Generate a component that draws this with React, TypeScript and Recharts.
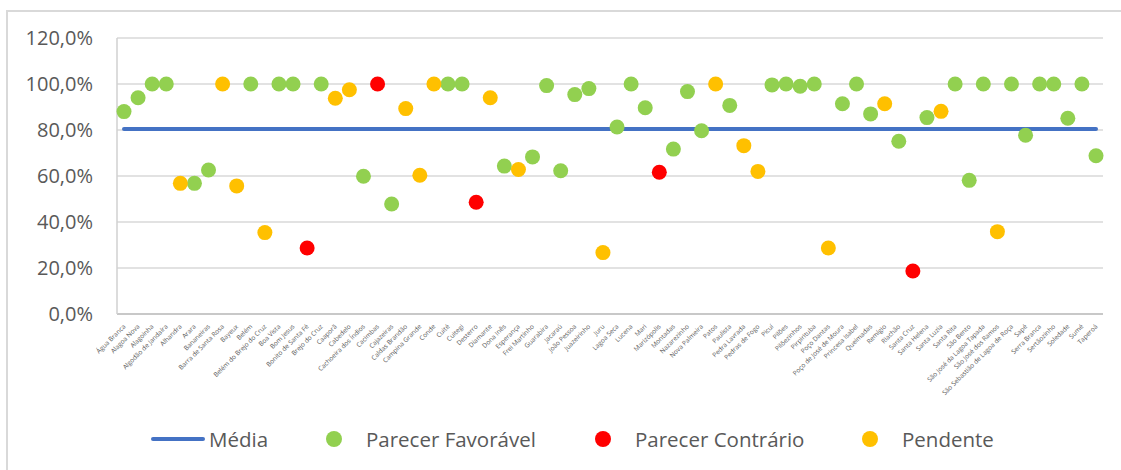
import React from 'react';
import { ComposedChart, Line, XAxis, YAxis, CartesianGrid } from 'recharts';

// municípios (eixo X)
const municipios = [
  'Água Branca', 'Alagoa Nova', 'Alagoinha', 'Algodão de Jandaíra', 'Alhandra', 'Arara', 'Bananeiras',
  'Barra de Santa Rosa', 'Bayeux', 'Belém', 'Belém do Brejo do Cruz', 'Boa Vista', 'Bom Jesus',
  'Bonito de Santa Fé', 'Brejo do Cruz', 'Caaporã', 'Cabedelo', 'Cachoeira dos Índios', 'Cacimbas',
  'Cajazeiras', 'Caldas Brandão', 'Campina Grande', 'Conde', 'Cuité', 'Cuitegi', 'Desterro', 'Diamante',
  'Dona Inês', 'Esperança', 'Frei Martinho', 'Guarabira', 'Jacaraú', 'João Pessoa', 'Juazeirinho', 'Juru',
  'Lagoa Seca', 'Lucena', 'Mari', 'Marizópolis', 'Montadas', 'Nazarezinho', 'Nova Palmeira', 'Patos',
  'Paulista', 'Pedra Lavrada', 'Pedras de Fogo', 'Picuí', 'Pilões', 'Pilõezinhos', 'Pirpirituba',
  'Poço Dantas', 'Poço de José de Moura', 'Princesa Isabel', 'Queimadas', 'Remígio', 'Riachão',
  'Santa Cruz', 'Santa Helena', 'Santa Luzia', 'Santa Rita', 'São Bento', 'São José da Lagoa Tapada',
  'São José dos Ramos', 'São Sebastião de Lagoa de Roça', 'Sapé', 'Serra Branca', 'Sertãozinho',
  'Soledade', 'Sumé', 'Taperoá',
];

// percentual de cada município
const percentuais = [
  88.0, 94.0, 100, 100, 56.8, 56.8, 62.6, 100, 55.7, 100,
  35.4, 100, 100, 28.7, 100, 93.8, 97.5, 59.9, 100, 47.8,
  89.3, 60.3, 100, 100, 100, 48.6, 94.0, 64.3, 62.8, 68.3,
  99.3, 62.3, 95.4, 98.0, 26.7, 81.3, 100, 89.7, 61.6, 71.7,
  96.7, 79.7, 100, 90.7, 73.2, 62.0, 99.6, 100, 99.0, 100,
  28.7, 91.4, 100, 87.0, 91.4, 75.1, 18.7, 85.4, 88.1, 100,
  58.1, 100, 35.8, 100, 77.7, 100, 100, 85.1, 100, 68.8,
];

// F = favorável, C = contrário, P = pendente
const pareceres = [
  'F', 'F', 'F', 'F', 'P', 'F', 'F', 'P', 'P', 'F',
  'P', 'F', 'F', 'C', 'F', 'P', 'P', 'F', 'C', 'F',
  'P', 'P', 'P', 'F', 'F', 'C', 'P', 'F', 'P', 'F',
  'F', 'F', 'F', 'F', 'P', 'F', 'F', 'F', 'C', 'F',
  'F', 'F', 'P', 'F', 'P', 'P', 'F', 'F', 'F', 'F',
  'P', 'F', 'F', 'F', 'P', 'F', 'C', 'F', 'P', 'F',
  'F', 'F', 'P', 'F', 'F', 'F', 'F', 'F', 'F', 'F',
];

const media = 80.4;
const yTicks = [0, 20, 40, 60, 80, 100, 120];

const series = [
  { key: 'fav', code: 'F', name: 'Parecer Favorável', color: '#92d050' },
  { key: 'contra', code: 'C', name: 'Parecer Contrário', color: '#ff0000' },
  { key: 'pend', code: 'P', name: 'Pendente', color: '#ffc000' },
];

const data = municipios.map((nome, i) => {
  const row: Record<string, string | number | null> = { nome, media };
  series.forEach(s => {
    row[s.key] = pareceres[i] === s.code ? percentuais[i] : null;
  });
  return row;
});

const fmt = (v: number) => `${v.toFixed(1).replace('.', ',')}%`;

const XTick = ({ x, y, payload }: any) => {
  const ax = x + 2;
  const ay = y + 11;
  return (
    <text x={ax} y={ay} transform={`rotate(-45 ${ax} ${ay})`} textAnchor="end" fontSize={6.5} fill="#595959">
      {payload.value}
    </text>
  );
};

const makeDot = (color: string) => (props: any) => {
  const { cx, cy, value, index } = props;
  if (value == null || cy == null || isNaN(cy)) return <g key={index} />;
  return <circle key={index} cx={cx} cy={cy} r={7.5} fill={color} />;
};

const legendText: React.CSSProperties = {
  position: 'absolute', top: 426, fontSize: 20.5, lineHeight: '26px', color: '#595959',
};

const dot = (left: number, color: string): React.CSSProperties => ({
  position: 'absolute', left: left - 8, top: 431, width: 16, height: 16, borderRadius: 8, background: color,
});

export default function App() {
  return (
    <div style={{ position: 'relative', width: 1121, height: 470, overflow: 'hidden', fontFamily: '"Open Sans", sans-serif', background: '#fff' }}>
      <style>{'body{margin:0}'}</style>
      <div style={{ position: 'absolute', left: 6, top: 10, width: 1200, height: 600, borderLeft: '2px solid #d9d9d9', borderTop: '2px solid #d9d9d9' }} />
      <ComposedChart width={1121} height={470} data={data} margin={{ top: 38, right: 18, bottom: 56, left: 0 }}>
        <CartesianGrid vertical={false} stroke="#d9d9d9" strokeWidth={1.5} />
        <XAxis
          dataKey="nome"
          interval={0}
          height={100}
          padding={{ left: 7, right: 7 }}
          tickLine={false}
          tickSize={0}
          tick={<XTick />}
          axisLine={{ stroke: '#bfbfbf', strokeWidth: 1.5 }}
        />
        <YAxis
          width={117}
          domain={[0, 120]}
          ticks={yTicks}
          tickFormatter={fmt}
          tickLine={false}
          tickSize={0}
          tickMargin={24}
          axisLine={{ stroke: '#d0d0d0', strokeWidth: 1.5 }}
          tick={{ fontSize: 20, fill: '#595959' }}
        />
        <Line
          dataKey="media"
          name="Média"
          stroke="#4472c4"
          strokeWidth={4}
          strokeLinecap="round"
          dot={false}
          activeDot={false}
          isAnimationActive={false}
        />
        {series.map(s => (
          <Line
            key={s.key}
            dataKey={s.key}
            name={s.name}
            stroke="none"
            dot={makeDot(s.color)}
            activeDot={false}
            connectNulls={false}
            isAnimationActive={false}
          />
        ))}
      </ComposedChart>
      <div style={{ position: 'absolute', left: 151, top: 437, width: 54, height: 4, borderRadius: 2, background: '#4472c4' }} />
      <div style={{ ...legendText, left: 209 }}>Média</div>
      <div style={dot(334, '#92d050')} />
      <div style={{ ...legendText, left: 366 }}>Parecer Favorável</div>
      <div style={dot(603, '#ff0000')} />
      <div style={{ ...legendText, left: 635 }}>Parecer Contrário</div>
      <div style={dot(870, '#ffc000')} />
      <div style={{ ...legendText, left: 902 }}>Pendente</div>
    </div>
  );
}
